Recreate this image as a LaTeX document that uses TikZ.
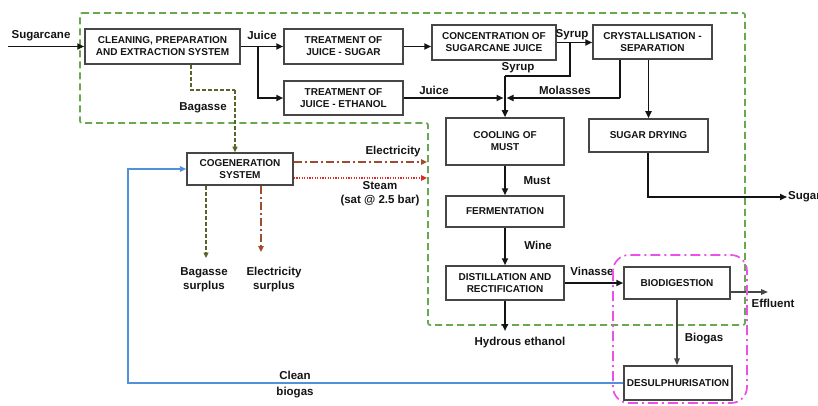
\documentclass[tikz,border=0pt]{standalone}
\usepackage{fontspec}
\setmainfont{Liberation Sans}
\usetikzlibrary{arrows.meta}

\definecolor{boxgray}{RGB}{70,70,70}
\definecolor{inkdark}{RGB}{20,20,20}
\definecolor{plantgreen}{RGB}{106,168,79}
\definecolor{bagolive}{RGB}{88,100,42}
\definecolor{powerbrown}{RGB}{158,78,45}
\definecolor{steamred}{RGB}{225,40,40}
\definecolor{gasblue}{RGB}{80,145,215}
\definecolor{biomagenta}{RGB}{235,80,235}

\tikzset{
  procbox/.style={draw=boxgray, line width=1.5pt, fill=white, align=center,
    inner sep=0pt, text=inkdark, font=\bfseries\fontsize{10}{12}\selectfont},
  lbl/.style={inner sep=0pt, align=center, text=inkdark,
    font=\bfseries\fontsize{11.5}{15}\selectfont},
  flow/.style={draw=inkdark, line width=1.9pt, -{Triangle[length=7pt,width=6pt]}},
  thinflow/.style={draw=boxgray, line width=1.6pt, -{Triangle[length=7pt,width=5.5pt]}},
  bagline/.style={draw=bagolive, line width=1.7pt, dash pattern=on 4pt off 2pt,
    -{Triangle[length=5.5pt,width=5pt]}},
  powerline/.style={draw=powerbrown, line width=1.8pt, dash pattern=on 8pt off 3pt on 2pt off 3pt,
    -{Triangle[length=6pt,width=5.5pt]}},
  steamline/.style={draw=steamred, line width=1.8pt, dash pattern=on 1.3pt off 1.3pt,
    -{Triangle[length=6pt,width=5.5pt]}},
  gasline/.style={draw=gasblue, line width=2pt, -{Triangle[length=6.5pt,width=5.5pt]}},
  plantbound/.style={draw=plantgreen, line width=1.7pt, dash pattern=on 7pt off 4pt},
  digestbound/.style={draw=biomagenta, line width=1.7pt,
    dash pattern=on 10pt off 4pt on 2pt off 4pt, rounded corners=16pt},
}

\begin{document}
\begin{tikzpicture}[x=1pt, y=-1pt]
\useasboundingbox (0,0) rectangle (818,406);
\fill[white] (0,0) rectangle (818,406);

% sugar/ethanol plant boundary
\draw[plantbound, rounded corners=2pt]
  (80,13) -- (745,13) -- (745,325) -- (428,325) -- (428,123) -- (80,123) -- cycle;

% process units
\node[procbox, minimum width=155pt, minimum height=35pt] (clean) at (162.5,46.5)
  {CLEANING, PREPARATION\\AND EXTRACTION SYSTEM};
\node[procbox, minimum width=119pt, minimum height=35pt] (tsug) at (343.5,46.5)
  {TREATMENT OF\\JUICE - SUGAR};
\node[procbox, minimum width=119pt, minimum height=34pt] (teth) at (343.5,98)
  {TREATMENT OF\\JUICE - ETHANOL};
\node[procbox, minimum width=124pt, minimum height=35pt] (conc) at (494,42.5)
  {CONCENTRATION OF\\SUGARCANE JUICE};
\node[procbox, minimum width=119pt, minimum height=34pt] (cryst) at (652.5,42)
  {CRYSTALLISATION -\\SEPARATION};
\node[procbox, minimum width=118pt, minimum height=47pt] (cool) at (505,141.5)
  {COOLING OF\\MUST};
\node[procbox, minimum width=119pt, minimum height=33pt] (dry) at (648.5,135.5)
  {SUGAR DRYING};
\node[procbox, minimum width=118pt, minimum height=31pt] (ferm) at (505,211.5)
  {FERMENTATION};
\node[procbox, minimum width=118pt, minimum height=34pt] (dist) at (505,283)
  {DISTILLATION AND\\RECTIFICATION};
\node[procbox, minimum width=106pt, minimum height=32pt] (bio) at (677,283)
  {BIODIGESTION};
\node[procbox, minimum width=108pt, minimum height=34pt] (desul) at (678,383)
  {DESULPHURISATION};
\node[procbox, minimum width=106pt, minimum height=32pt] (cogen) at (240,169)
  {COGENERATION\\SYSTEM};

% free ends and junctions
\coordinate (caneIn) at (8,46.5);
\coordinate (juiceSplit) at (258,46.5);
\coordinate (syrupSplit) at (570,42.5);
\coordinate (syrupBend) at (570,76);
\coordinate (mixTop) at (505,76);
\coordinate (mix) at (505,98);
\coordinate (molBend) at (620,98);
\coordinate (sugarBend) at (648,197);
\coordinate (sugarOut) at (787,197);
\coordinate (ethOut) at (505,331);
\coordinate (effOut) at (768,292);
\coordinate (bagDown) at (191,90);
\coordinate (bagOver) at (235,90);
\coordinate (elecOut) at (427,162);
\coordinate (steamOut) at (427,178);
\coordinate (bagSurplus) at (206,258);
\coordinate (elecSurplus) at (261,252);
\coordinate (gasCorner) at (128,383);
\coordinate (gasUp) at (128,169);

% main flows
\draw[flow] (caneIn) -- (clean.west);
\draw[flow] (clean.east) -- (tsug.west);
\draw[flow] (juiceSplit) |- (teth.west);
\draw[flow] (tsug.east) -- (tsug.east -| conc.west);
\draw[flow] (conc.east) -- (conc.east -| cryst.west);
\draw[flow, -] (syrupSplit) -- (syrupBend) -- (mixTop);
\draw[flow] (mixTop) -- (cool.north);
\draw[flow, shorten >=1.5pt] (teth.east) -- (mix);
\draw[flow, -] (cryst.south -| molBend) -- (molBend);
\draw[flow, shorten >=1.5pt] (molBend) -- (mix);
\draw[flow] (cryst.south -| dry.north) -- (dry.north);
\draw[flow] (dry.south -| sugarBend) -- (sugarBend) -- (sugarOut);
\draw[flow] (cool.south) -- (ferm.north);
\draw[flow] (ferm.south) -- (dist.north);
\draw[flow] (dist.south) -- (ethOut);
\draw[flow] (dist.east) -- (bio.west);
\draw[thinflow] (bio.east |- effOut) -- (effOut);
\draw[thinflow] (bio.south) -- (bio.south |- desul.north);

% utilities
\draw[bagline, -] (clean.south -| bagDown) -- (bagDown) -- (bagOver);
\draw[bagline] (bagOver) -- (cogen.north -| bagOver);
\draw[bagline] (cogen.south -| bagSurplus) -- (bagSurplus);
\draw[powerline] (cogen.south -| elecSurplus) -- (elecSurplus);
\draw[powerline] (cogen.east |- elecOut) -- (elecOut);
\draw[steamline] (cogen.east |- steamOut) -- (steamOut);
\draw[gasline] (desul.west) -- (gasCorner) -- (gasUp) -- (cogen.west);

% stream labels
\node[lbl] (lCane) at (41,36) {Sugarcane};
\node[lbl] (lJuice1) at (262,35) {Juice};
\node[lbl] (lSyrup1) at (572,35) {Syrup};
\node[lbl] (lSyrup2) at (518,68) {Syrup};
\node[lbl] (lJuice2) at (434,90) {Juice};
\node[lbl] (lMol) at (565,90) {Molasses};
\node[lbl] (lBag) at (203,108) {Bagasse};
\node[lbl] (lElec) at (393,152) {Electricity};
\node[lbl, font=\bfseries\fontsize{11.5}{14.5}\selectfont] (lSteam) at (380,193.5) {Steam\\(sat @ 2.5 bar)};
\node[lbl, font=\bfseries\fontsize{11.5}{14}\selectfont] (lBagSur) at (204,280) {Bagasse\\surplus};
\node[lbl, font=\bfseries\fontsize{11.5}{14}\selectfont] (lElecSur) at (274,280) {Electricity\\surplus};
\node[lbl] (lMust) at (537,181) {Must};
\node[lbl] (lWine) at (538,245) {Wine};
\node[lbl] (lVin) at (592,271) {Vinasse};
\node[lbl] (lEff) at (773,303) {Effluent};
\node[lbl] (lBiogas) at (704,339) {Biogas};
\node[lbl] (lEth) at (520,343) {Hydrous ethanol};
\node[lbl, anchor=west] (lSugar) at (788,197) {Sugar};
\node[lbl, font=\bfseries\fontsize{11.5}{16}\selectfont] (lClean) at (295,385) {Clean\\biogas};

% biogas unit boundary
\draw[digestbound] (613,255) rectangle (747,403);
\end{tikzpicture}
\end{document}
